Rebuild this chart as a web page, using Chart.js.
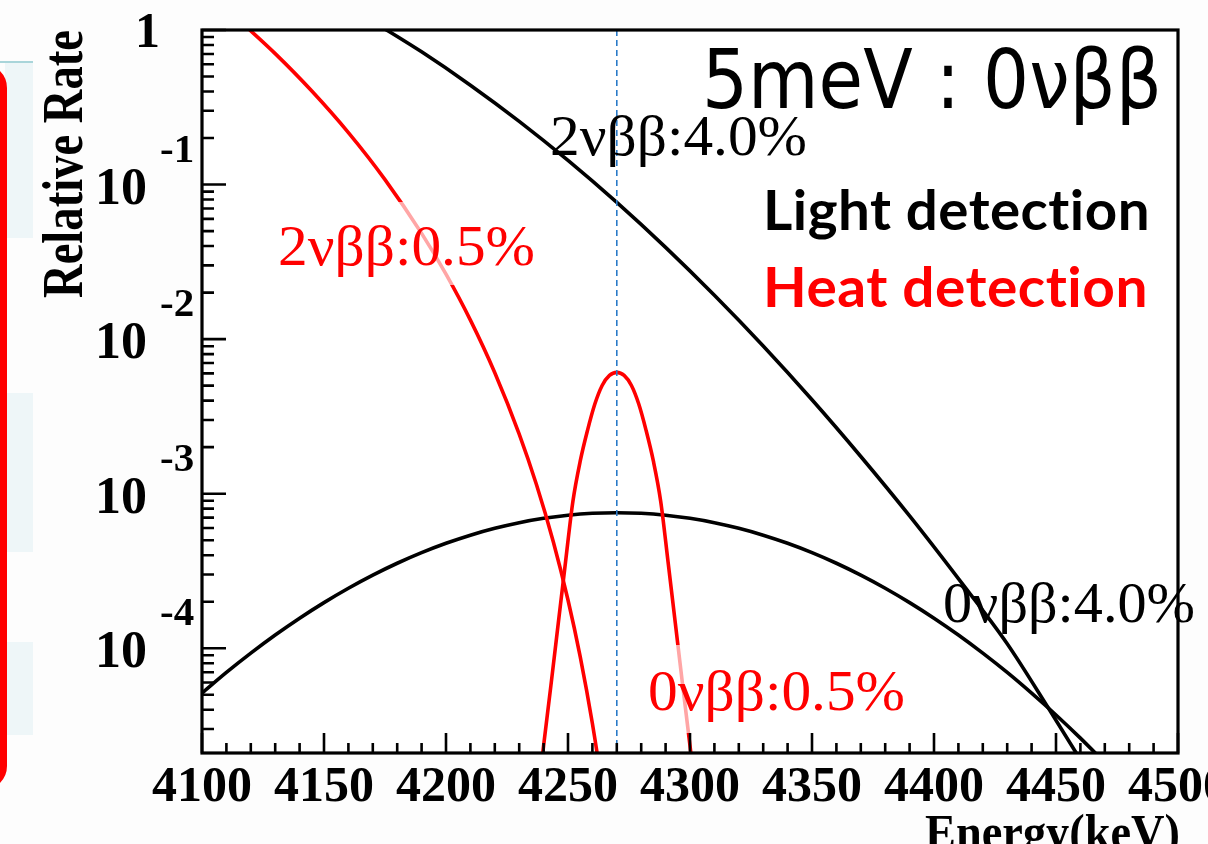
<!DOCTYPE html>
<html>
<head>
<meta charset="utf-8">
<script src="https://cdn.jsdelivr.net/npm/chart.js@4.4.1/dist/chart.umd.min.js"></script>
<style>
html,body{margin:0;padding:0;background:#fdfdfd;width:1208px;height:844px;overflow:hidden;position:relative}
.band{position:absolute;left:5px;width:28px;background:#eef6f8}
#topline{position:absolute;left:0;top:61px;width:33px;height:2px;background:#a9d5da}
#redbox{position:absolute;left:-300px;top:64px;width:293px;height:712px;border:7px solid #ff0000;border-radius:24px}
#c{position:absolute;left:0;top:0}
</style>
</head>
<body>
<div class="band" style="top:62px;height:176px"></div>
<div class="band" style="top:393px;height:159px"></div>
<div class="band" style="top:642px;height:93px"></div>
<div id="topline"></div>
<div id="redbox"></div>
<canvas id="c" width="1208" height="844"></canvas>
<script>
// ---- data ----
const energyLight0v = [4100,4110,4120,4130,4140,4150,4160,4170,4180,4190,4200,4210,4220,4230,4240,4250,4260,4270,4280,4290,4300,4310,4320,4330,4340,4350,4360,4370,4380,4390,4400,4410,4420,4430,4440,4450,4460,4470];
const rateLight0v = [5.12e-5,6.97e-5,9.29e-5,1.217e-4,1.564e-4,1.973e-4,2.444e-4,2.972e-4,3.547e-4,4.154e-4,4.775e-4,5.390e-4,5.970e-4,6.494e-4,6.928e-4,7.258e-4,7.464e-4,7.534e-4,7.464e-4,7.258e-4,6.928e-4,6.494e-4,5.970e-4,5.390e-4,4.775e-4,4.154e-4,3.547e-4,2.972e-4,2.444e-4,1.973e-4,1.564e-4,1.217e-4,9.29e-5,6.97e-5,5.12e-5,3.70e-5,2.62e-5,1.82e-5];

const energyLight2v = [4170,4190,4210,4230,4250,4270,4290,4310,4330,4350,4370,4390,4410,4430,4447,4460,4470];
const rateLight2v = [1.135,0.722,0.4395,0.2564,0.1432,0.0766,0.0392,0.0192,9.02e-3,4.05e-3,1.74e-3,7.18e-4,2.82e-4,1.07e-4,4.07e-5,1.9e-5,1.05e-5];

const energyHeat0v = [4237,4240,4243,4246,4249,4252,4255,4258,4261,4264,4267,4270,4273,4276,4279,4282,4285,4288,4291,4294,4297,4300,4303];
const rateHeat0v = [9.3e-6,2.34e-5,5.75e-5,1.445e-4,3.63e-4,8.91e-4,1.622e-3,2.570e-3,3.802e-3,5.012e-3,5.821e-3,6.095e-3,5.821e-3,5.012e-3,3.802e-3,2.570e-3,1.622e-3,8.91e-4,3.63e-4,1.445e-4,5.75e-5,2.34e-5,9.3e-6];

const energyHeat2v = [4115,4130,4145,4160,4175,4190,4200,4210,4220,4230,4237,4244,4250,4255,4260,4264,4267];
const rateHeat2v = [1.166,0.7034,0.4029,0.2169,0.1077,0.04832,0.02631,0.01327,6.062e-3,2.431e-3,1.155e-3,4.874e-4,2.051e-4,8.83e-5,3.256e-5,1.255e-5,5.40e-6];

const qValue = 4270;
const xMin = 4100, xMax = 4500;
const yMin = 2.1e-5, yMax = 1;
const xTickValues = [4100,4150,4200,4250,4300,4350,4400,4450,4500];
const xTickLabels = ['4100','4150','4200','4250','4300','4350','4400','4450','4500'];
const yDecadeValues = [1,0.1,0.01,0.001,0.0001];
const yDecadeExponents = ['','-1','-2','-3','-4'];

const toPoints = (xs, ys) => xs.map((x, i) => ({x: x, y: ys[i]}));

function fitText(ctx, text, x, baseline, width, font, color, spacing) {
  ctx.save();
  ctx.font = font;
  ctx.fillStyle = color;
  ctx.textAlign = 'left';
  ctx.textBaseline = 'alphabetic';
  if (spacing) ctx.letterSpacing = spacing;
  const w = ctx.measureText(text).width;
  ctx.translate(x, baseline);
  ctx.scale(width / w, 1);
  ctx.fillText(text, 0, 0);
  ctx.restore();
}

const decor = {
  id: 'decor',
  beforeDatasetsDraw(chart) {
    const {ctx, chartArea: a} = chart;
    ctx.save();
    ctx.fillStyle = '#ffffff';
    ctx.fillRect(a.left, a.top, a.right - a.left, a.bottom - a.top);
    ctx.restore();
  },
  afterDatasetsDraw(chart) {
    const {ctx, chartArea: a} = chart;
    const xs = chart.scales.x, ys = chart.scales.y;
    // label background boxes (semi transparent, fade the curves beneath)
    ctx.save();
    ctx.fillStyle = 'rgba(255,255,255,0.65)';
    ctx.fillRect(258, 202, 295, 83);
    ctx.fillRect(627, 645, 290, 88);
    ctx.restore();

    // frame
    ctx.save();
    ctx.strokeStyle = '#000';
    ctx.lineWidth = 3.2;
    ctx.strokeRect(a.left, a.top, a.right - a.left, a.bottom - a.top);
    // ticks
    ctx.lineWidth = 2.6;
    ctx.beginPath();
    for (let v = xMin; v <= xMax; v += 10) {
      const px = xs.getPixelForValue(v);
      const major = xTickValues.includes(v);
      ctx.moveTo(px, a.bottom);
      ctx.lineTo(px, a.bottom - (major ? 20 : 10));
    }
    for (let e = -5; e <= 0; e++) {
      for (let m = 1; m <= 9; m++) {
        const v = m * Math.pow(10, e);
        if (v < yMin * 0.999 || v > yMax * 1.001) continue;
        const py = ys.getPixelForValue(v);
        ctx.moveTo(a.left, py);
        ctx.lineTo(a.left + (m === 1 ? 24 : 12), py);
      }
    }
    ctx.stroke();
    ctx.restore();

    // x tick labels
    ctx.save();
    ctx.fillStyle = '#000';
    ctx.font = 'bold 50px "Liberation Serif"';
    ctx.textAlign = 'center';
    ctx.textBaseline = 'alphabetic';
    xTickValues.forEach((v, i) => {
      ctx.fillText(xTickLabels[i], xs.getPixelForValue(v), 801);
    });
    // y tick labels
    yDecadeValues.forEach((v, i) => {
      const py = ys.getPixelForValue(v);
      if (yDecadeExponents[i] === '') {
        ctx.font = 'bold 50px "Liberation Serif"';
        ctx.textAlign = 'right';
        ctx.fillText('1', 160, py + 17);
      } else {
        ctx.font = 'bold 52px "Liberation Serif"';
        ctx.textAlign = 'right';
        ctx.fillText('10', 147, py + 19);
        ctx.font = 'bold 41px "Liberation Serif"';
        ctx.textAlign = 'left';
        ctx.fillText(yDecadeExponents[i], 160, py - 23);
      }
    });
    ctx.restore();

    // axis titles
    ctx.save();
    ctx.translate(82, 298);
    ctx.rotate(-Math.PI / 2);
    fitText(ctx, 'Relative Rate', 0, 0, 268, 'bold 57px "Liberation Serif"', '#000');
    ctx.restore();
    fitText(ctx, 'Energy(keV)', 925, 849, 255, 'bold 51px "Liberation Serif"', '#000');

    // annotations
    fitText(ctx, '5meV : 0νββ', 702, 108, 460, '82px "DejaVu Sans"', '#000');
    fitText(ctx, '2νββ:4.0%', 550, 155, 257, '56px "Liberation Serif"', '#000');
    fitText(ctx, 'Light detection', 763, 230, 387, 'bold 56px Lato', '#000', '0.5px');
    fitText(ctx, 'Heat detection', 763, 307, 385, 'bold 56px Lato', '#ff0000', '0.5px');
    fitText(ctx, '2νββ:0.5%', 278, 265, 257, '56px "Liberation Serif"', '#ff0000');
    fitText(ctx, '0νββ:4.0%', 943, 622, 252, '56px "Liberation Serif"', '#000');
    fitText(ctx, '0νββ:0.5%', 648, 710, 257, '56px "Liberation Serif"', '#ff0000');
  }
};

const lineStyle = (color) => ({
  borderColor: color, borderWidth: 3.6, pointRadius: 0, fill: false,
  cubicInterpolationMode: 'monotone'
});

new Chart(document.getElementById('c'), {
  type: 'line',
  data: {
    datasets: [
      {label: 'Q value', data: [{x: qValue, y: yMax}, {x: qValue, y: yMin}],
       borderColor: '#2a7ac8', borderWidth: 1.6, borderDash: [6, 4], pointRadius: 0, fill: false},
      Object.assign({label: '0νββ:0.5%', data: toPoints(energyHeat0v, rateHeat0v)}, lineStyle('#ff0000')),
      Object.assign({label: '2νββ:0.5%', data: toPoints(energyHeat2v, rateHeat2v)}, lineStyle('#ff0000')),
      Object.assign({label: '0νββ:4.0%', data: toPoints(energyLight0v, rateLight0v)}, lineStyle('#000000')),
      Object.assign({label: '2νββ:4.0%', data: toPoints(energyLight2v, rateLight2v)}, lineStyle('#000000'))
    ]
  },
  options: {
    responsive: false,
    animation: false,
    devicePixelRatio: 1,
    layout: {padding: {left: 202, right: 30, top: 30, bottom: 91}},
    plugins: {legend: {display: false}, tooltip: {enabled: false}},
    scales: {
      x: {type: 'linear', min: xMin, max: xMax, display: false},
      y: {type: 'logarithmic', min: yMin, max: yMax, display: false}
    }
  },
  plugins: [decor]
});
</script>
</body>
</html>
